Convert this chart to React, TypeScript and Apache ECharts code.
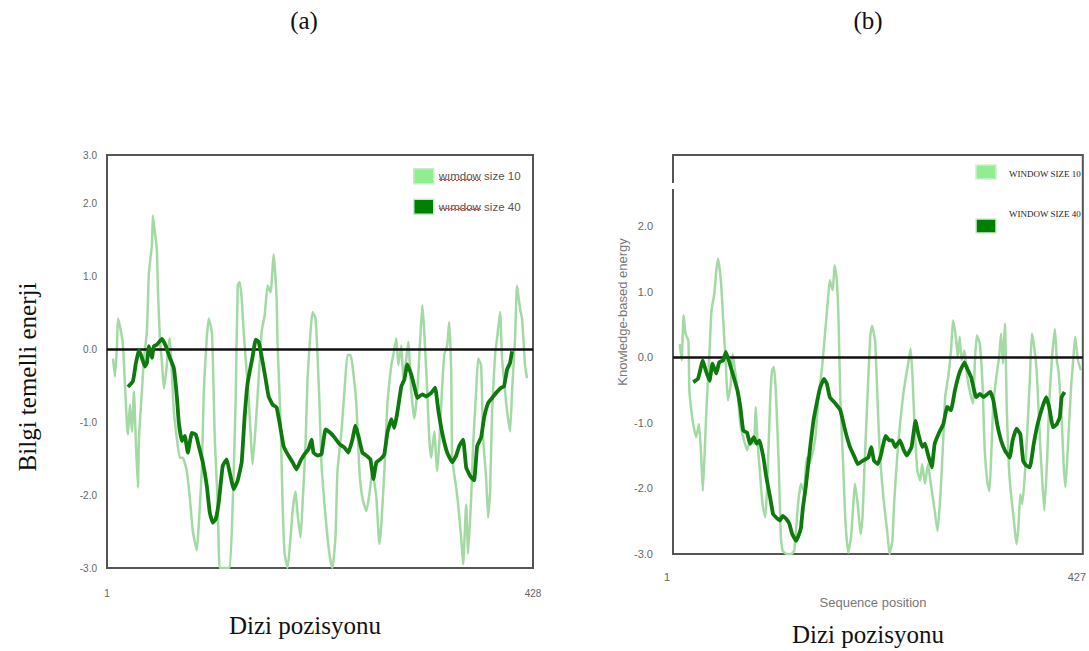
import { useEffect, useRef } from "react";
import * as echarts from "echarts";

// Panel (a): window size 10 profile
const posA10 = [7, 9, 11, 12, 15, 17, 19, 21, 22, 24, 26, 28, 30, 32, 33, 36, 38, 41, 43, 46, 47, 49, 51, 52, 54, 56, 58, 61, 62, 64, 66, 68, 71, 74, 77, 81, 84, 87, 91, 93, 96, 98, 101, 103, 106, 107, 109, 112, 114, 119, 124, 127, 130, 132, 134, 136, 138, 141, 143, 147, 151, 156, 159, 162, 165, 168, 171, 172, 175, 177, 179, 182, 185, 187, 190, 192, 195, 197, 200, 202, 205, 207, 210, 212, 214, 216, 219, 222, 225, 227, 230, 232, 236, 239, 242, 245, 247, 251, 254, 257, 261, 264, 267, 271, 274, 276, 279, 282, 286, 288, 291, 293, 296, 298, 301, 303, 306, 309, 312, 315, 317, 319, 322, 324, 326, 329, 332, 334, 336, 339, 342, 344, 346, 347, 351, 353, 356, 358, 361, 363, 366, 368, 371, 373, 376, 378, 381, 383, 385, 387, 390, 392, 395, 397, 400, 402, 405, 407, 410, 412, 415, 417, 420, 422];
const valA10 = [-0.13, -0.38, 0.05, 0.42, 0.24, 0.05, -0.49, -1.04, -1.17, -0.76, -1.13, -0.58, -1.31, -1.9, -1.22, -0.58, -0.13, 0.24, 1.05, 1.42, 1.83, 1.6, 1.37, 0.83, 0.15, -0.17, -0.54, -0.22, 0.01, 0.15, -0.31, -0.85, -1.22, -1.49, -1.49, -1.67, -2.04, -2.49, -2.76, -2.4, -1.67, -0.58, 0.15, 0.42, 0.24, -0.08, -1.22, -2.13, -3.0, -3.0, -3.0, -2.13, -0.67, 0.87, 0.92, 0.69, 0.24, -0.31, -0.67, -1.58, -0.85, 0.24, 0.46, 0.87, 0.78, 1.3, 0.69, 0.05, -0.99, -2.13, -2.8, -3.0, -2.58, -2.22, -1.95, -2.26, -2.58, -2.13, -1.31, -0.4, 0.24, 0.51, 0.42, -0.08, -0.76, -1.58, -2.13, -2.58, -2.9, -3.0, -2.58, -1.67, -1.13, -0.58, -0.08, -0.08, -0.22, -0.76, -1.67, -2.04, -2.22, -1.99, -1.67, -2.04, -2.67, -2.4, -1.67, -0.76, -0.22, -0.08, 0.15, -0.22, 0.05, -0.4, -0.13, 0.1, -0.58, -0.95, -0.58, 0.15, 0.6, 0.24, -0.58, -1.22, -1.49, -1.13, -1.67, -1.31, -0.76, -0.08, 0.05, 0.37, -0.31, -1.49, -1.9, -2.13, -2.58, -2.95, -2.13, -2.8, -2.04, -1.31, -0.58, -0.13, -0.22, -1.22, -1.76, -2.31, -1.95, -0.85, -0.08, 0.15, 0.51, -0.13, -0.58, -0.85, -1.13, -0.58, 0.15, 0.87, 0.55, 0.42, -0.22, -0.4];

// Panel (a): window size 40 profile
const posA40 = [22, 27, 30, 33, 36, 39, 41, 43, 46, 48, 51, 56, 60, 64, 68, 71, 73, 76, 79, 82, 86, 90, 93, 97, 101, 104, 107, 110, 113, 117, 121, 124, 128, 132, 136, 139, 142, 147, 150, 153, 156, 159, 163, 167, 171, 174, 178, 182, 187, 191, 195, 199, 203, 206, 208, 212, 216, 220, 225, 229, 234, 239, 243, 247, 250, 253, 257, 261, 265, 268, 271, 275, 279, 282, 286, 289, 292, 296, 299, 302, 306, 309, 312, 317, 321, 326, 330, 333, 337, 342, 347, 351, 354, 358, 361, 365, 369, 372, 376, 379, 383, 387, 391, 396, 399, 402, 405, 407];
const valA40 = [-0.52, -0.44, -0.19, -0.01, -0.12, -0.24, -0.19, 0.04, -0.12, 0.04, 0.06, 0.14, 0.04, -0.12, -0.26, -0.65, -1.01, -1.26, -1.19, -1.42, -1.15, -1.17, -1.33, -1.55, -1.87, -2.24, -2.38, -2.33, -2.1, -1.6, -1.51, -1.69, -1.92, -1.8, -1.55, -0.92, -0.46, -0.1, 0.13, 0.1, -0.1, -0.33, -0.65, -0.76, -0.8, -1.01, -1.33, -1.44, -1.55, -1.65, -1.53, -1.44, -1.37, -1.24, -1.42, -1.46, -1.44, -1.1, -1.15, -1.21, -1.3, -1.35, -1.42, -1.24, -1.05, -1.19, -1.42, -1.46, -1.51, -1.78, -1.55, -1.51, -1.44, -1.15, -0.96, -1.08, -0.87, -0.51, -0.42, -0.21, -0.35, -0.51, -0.67, -0.62, -0.65, -0.6, -0.53, -0.83, -1.15, -1.42, -1.55, -1.46, -1.33, -1.24, -1.62, -1.74, -1.8, -1.33, -1.21, -0.94, -0.74, -0.67, -0.6, -0.53, -0.51, -0.28, -0.19, -0.03];

// Panel (b): window size 10 profile
const posB10 = [8, 10, 12, 14, 17, 18, 20, 22, 25, 28, 30, 32, 34, 36, 39, 41, 44, 46, 48, 51, 53, 56, 58, 61, 63, 65, 68, 71, 74, 78, 81, 85, 87, 89, 91, 94, 97, 99, 102, 104, 106, 108, 111, 113, 115, 119, 124, 127, 131, 134, 137, 140, 142, 145, 149, 152, 156, 159, 162, 164, 167, 169, 171, 173, 175, 178, 180, 183, 186, 188, 190, 193, 196, 198, 200, 203, 206, 208, 211, 213, 215, 217, 220, 224, 226, 229, 231, 234, 237, 240, 243, 246, 248, 250, 252, 255, 258, 260, 263, 266, 269, 273, 276, 279, 282, 284, 287, 290, 292, 295, 297, 299, 301, 304, 306, 308, 311, 313, 315, 317, 320, 323, 325, 328, 330, 332, 334, 337, 340, 342, 344, 346, 348, 350, 352, 355, 358, 360, 362, 364, 367, 370, 372, 374, 376, 379, 381, 383, 385, 387, 390, 392, 395, 398, 400, 402, 405, 407, 409, 412, 415, 417, 419, 422, 425];
const valB10 = [0.2, -0.05, 0.64, 0.36, 0.25, -0.51, -0.81, -1.02, -1.22, -1.02, -1.42, -2.04, -1.42, -0.71, 0.1, 0.71, 0.97, 1.32, 1.5, 1.12, 0.61, -0.15, -0.66, -0.41, 0.05, -0.15, -0.51, -1.02, -1.22, -1.42, -1.27, -1.32, -0.76, -1.32, -1.68, -2.24, -2.44, -1.93, -0.66, -0.2, -0.15, -0.56, -1.68, -2.7, -2.95, -3.0, -3.0, -2.95, -2.24, -1.93, -2.04, -1.53, -1.63, -1.53, -1.22, -0.66, -0.15, 0.36, 0.87, 1.17, 1.02, 1.4, 1.22, 0.61, -0.66, -1.68, -2.44, -2.98, -2.75, -2.34, -1.93, -2.24, -2.7, -2.44, -1.68, -0.66, 0.31, 0.48, 0.25, -0.41, -1.17, -1.68, -2.19, -2.7, -3.0, -2.8, -2.19, -1.53, -1.02, -0.61, -0.31, -0.05, 0.13, -0.31, -1.02, -1.73, -1.88, -1.63, -1.93, -1.63, -1.93, -2.34, -2.65, -2.1, -1.22, -0.6, -0.31, 0.1, 0.56, 0.31, 0.0, 0.31, -0.05, 0.1, -0.2, -0.41, -0.61, -0.71, 0.0, 0.33, 0.2, -0.51, -1.42, -1.93, -2.04, -1.42, -0.71, -0.31, 0.0, 0.36, -0.1, 0.51, -0.81, -1.63, -2.04, -2.44, -2.85, -2.6, -2.09, -2.24, -1.73, -0.92, -0.31, 0.36, 0.2, -0.2, -0.81, -1.42, -1.93, -2.34, -1.53, -0.71, 0.0, 0.43, -0.05, -0.25, -0.92, -1.63, -1.98, -1.22, -0.41, -0.05, 0.31, -0.05, -0.2];

// Panel (b): window size 40 profile
const posB40 = [22, 27, 32, 35, 39, 42, 46, 49, 53, 56, 60, 64, 68, 71, 74, 78, 81, 85, 88, 91, 95, 98, 102, 105, 108, 112, 115, 119, 122, 125, 129, 132, 134, 136, 139, 144, 147, 151, 154, 158, 161, 164, 170, 175, 180, 185, 190, 193, 198, 204, 207, 210, 214, 217, 222, 226, 229, 232, 237, 241, 244, 249, 253, 256, 260, 263, 266, 270, 273, 277, 282, 286, 290, 294, 299, 304, 307, 311, 316, 320, 324, 328, 331, 334, 338, 342, 346, 351, 354, 358, 362, 365, 368, 372, 376, 380, 385, 389, 392, 396, 400, 403, 405, 408];
const valB40 = [-0.38, -0.33, -0.05, -0.2, -0.36, -0.1, -0.25, -0.08, -0.05, 0.08, -0.1, -0.3, -0.51, -0.76, -1.12, -1.15, -1.32, -1.22, -1.32, -1.27, -1.53, -1.83, -2.14, -2.39, -2.44, -2.49, -2.42, -2.47, -2.54, -2.7, -2.8, -2.7, -2.6, -2.3, -1.98, -1.32, -0.97, -0.66, -0.46, -0.33, -0.41, -0.61, -0.71, -0.81, -1.12, -1.37, -1.53, -1.63, -1.58, -1.53, -1.37, -1.58, -1.63, -1.5, -1.2, -1.27, -1.27, -1.37, -1.27, -1.42, -1.5, -1.37, -0.97, -1.17, -1.37, -1.32, -1.48, -1.68, -1.32, -1.17, -1.02, -0.76, -0.81, -0.51, -0.23, -0.08, -0.18, -0.31, -0.61, -0.56, -0.61, -0.56, -0.53, -0.66, -1.02, -1.27, -1.42, -1.53, -1.27, -1.09, -1.17, -1.58, -1.65, -1.68, -1.32, -1.02, -0.76, -0.61, -0.76, -1.07, -1.02, -0.92, -0.61, -0.53];

// Axis ends and series names
const xEndsA = [1, 428];
const xEndsB = [1, 427];
const yMaxA = 2.66;
const yMaxB = 3.08;
const namesA = ["wımdow size 10", "wımdow size 40"];
const namesB = ["WINDOW SIZE 10", "WINDOW SIZE 40"];

const SANS = "'Liberation Sans', Arial, sans-serif";
const SERIF = "'Liberation Serif', 'Times New Roman', serif";
const LIGHT_LINE = "#a3daa3";
const DARK_LINE = "#0e7a0e";
const LIGHT_KEY = "#90ee90";
const DARK_KEY = "#008000";

const zip = (xs: number[], ys: number[]) => xs.map((x, i) => [x, ys[i]]);

const zeroLine = {
  silent: true,
  symbol: "none",
  label: { show: false },
  lineStyle: { color: "#111", width: 2.5, type: "solid" as const },
  emphasis: { disabled: true },
  data: [{ yAxis: 0 }],
};

function lightSeries(name: string, idx: number, data: number[][]) {
  return {
    name,
    type: "line" as const,
    xAxisIndex: idx,
    yAxisIndex: idx,
    data,
    symbol: "none",
    smooth: 0.15,
    lineStyle: { color: LIGHT_LINE, width: 2.5 },
    itemStyle: { color: LIGHT_KEY },
    z: 2,
    markLine: zeroLine,
  };
}

function darkSeries(name: string, idx: number, data: number[][]) {
  return {
    name,
    type: "line" as const,
    xAxisIndex: idx,
    yAxisIndex: idx,
    data,
    symbol: "none",
    smooth: 0.1,
    lineStyle: { color: DARK_LINE, width: 3.8 },
    itemStyle: { color: DARK_KEY },
    z: 6,
  };
}

// zig-zag spelling underline under a legend word
function squiggle(x0: number, x1: number, y: number) {
  const pts: number[][] = [];
  let up = true;
  for (let x = x0; x <= x1; x += 2) {
    pts.push([x, y + (up ? -1 : 1)]);
    up = !up;
  }
  return {
    type: "polyline",
    shape: { points: pts },
    style: { stroke: "#d9413a", lineWidth: 1, fill: null },
    z: 50,
  };
}

function serifText(text: string, x: number, y: number, size: number, rotation = 0) {
  return {
    type: "text",
    x,
    y,
    rotation,
    style: {
      text,
      fill: "#111",
      font: `${size}px ${SERIF}`,
      align: "center",
      verticalAlign: "middle",
    },
    z: 50,
  };
}

function buildOption() {
  return {
    animation: false,
    backgroundColor: "#ffffff",
    grid: [
      { left: 107, top: 155, width: 426, height: 413, show: true, borderColor: "#555", borderWidth: 2, backgroundColor: "transparent" },
      { left: 673, top: 155, width: 418, height: 399, show: true, borderColor: "#555", borderWidth: 2, backgroundColor: "transparent" },
    ],
    xAxis: [
      {
        type: "value",
        gridIndex: 0,
        min: xEndsA[0],
        max: xEndsA[1],
        splitLine: { show: false },
        axisLine: { show: false },
        axisTick: { show: false },
        axisLabel: {
          margin: 20,
          color: "#666",
          fontSize: 10,
          fontFamily: SANS,
          formatter: (v: number) => (xEndsA.includes(v) ? String(v) : ""),
        },
      },
      {
        type: "value",
        gridIndex: 1,
        min: xEndsB[0],
        max: xEndsB[1],
        splitLine: { show: false },
        axisLine: { show: false },
        axisTick: { show: false },
        axisLabel: {
          margin: 17,
          color: "#666",
          fontSize: 11,
          fontFamily: SANS,
          padding: [0, 12, 0, 0],
          formatter: (v: number) => (xEndsB.includes(v) ? String(v) : ""),
        },
      },
    ],
    yAxis: [
      {
        type: "value",
        gridIndex: 0,
        min: -3,
        max: yMaxA,
        interval: 1,
        splitLine: { show: false },
        axisLine: { show: false },
        axisTick: { show: false },
        axisLabel: {
          margin: 10,
          color: "#666",
          fontSize: 10,
          fontFamily: SANS,
          formatter: (v: number) => (Math.abs(v - yMaxA) < 1e-6 ? "3.0" : v.toFixed(1)),
        },
      },
      {
        type: "value",
        gridIndex: 1,
        min: -3,
        max: yMaxB,
        interval: 1,
        splitLine: { show: false },
        axisLine: { show: false },
        axisTick: { show: false },
        axisLabel: {
          margin: 20,
          color: "#666",
          fontSize: 11,
          fontFamily: SANS,
          formatter: (v: number) => (v > 2.5 ? "" : v.toFixed(1)),
        },
      },
    ],
    legend: [
      {
        data: namesA,
        orient: "vertical",
        left: 413,
        top: 168,
        padding: 0,
        itemWidth: 20,
        itemHeight: 15,
        itemGap: 14,
        icon: "rect",
        selectedMode: false,
        itemStyle: { borderColor: "#cfe6cf", borderWidth: 1.5 },
        textStyle: { color: "#555", fontSize: 11.5, fontFamily: SANS },
      },
    ],
    series: [
      lightSeries(namesA[0], 0, zip(posA10, valA10)),
      darkSeries(namesA[1], 0, zip(posA40, valA40)),
      lightSeries(namesB[0], 1, zip(posB10, valB10)),
      darkSeries(namesB[1], 1, zip(posB40, valB40)),
    ],
    graphic: [
      serifText("(a)", 304, 20, 25),
      serifText("(b)", 868, 20, 25),
      serifText("Dizi pozisyonu", 305, 625, 25),
      serifText("Dizi pozisyonu", 868, 634, 25),
      serifText("Bilgi temelli enerji", 27, 377, 25, Math.PI / 2),
      {
        type: "text",
        x: 622,
        y: 312,
        rotation: Math.PI / 2,
        style: { text: "Knowledge-based energy", fill: "#777", font: `13px ${SANS}`, align: "center", verticalAlign: "middle" },
        z: 50,
      },
      {
        type: "text",
        x: 873,
        y: 602,
        style: { text: "Sequence position", fill: "#777", font: `13px ${SANS}`, align: "center", verticalAlign: "middle" },
        z: 50,
      },
      // break in the left frame of panel (b)
      { type: "rect", shape: { x: 670, y: 183, width: 6, height: 6 }, style: { fill: "#ffffff" }, z: 50 },
      // legend of panel (b)
      { type: "rect", shape: { x: 976, y: 165, width: 20, height: 14 }, style: { fill: LIGHT_KEY, stroke: "#d5ecd5", lineWidth: 1.5 }, z: 50 },
      {
        type: "text",
        x: 1009,
        y: 174,
        style: { text: namesB[0], fill: "#222", font: `9px ${SERIF}`, align: "left", verticalAlign: "middle" },
        z: 50,
      },
      { type: "rect", shape: { x: 976, y: 219, width: 20, height: 14 }, style: { fill: DARK_KEY, stroke: "#d5ecd5", lineWidth: 1.5 }, z: 50 },
      {
        type: "text",
        x: 1009,
        y: 214,
        style: { text: namesB[1], fill: "#222", font: `9px ${SERIF}`, align: "left", verticalAlign: "middle" },
        z: 50,
      },
      squiggle(439, 481, 180),
      squiggle(439, 481, 209),
    ],
  };
}

export default function App() {
  const ref = useRef<HTMLDivElement>(null);
  useEffect(() => {
    if (!ref.current) return;
    const chart = echarts.init(ref.current, undefined, { renderer: "svg" });
    chart.setOption(buildOption() as any);
    return () => chart.dispose();
  }, []);
  return (
    <div
      ref={ref}
      style={{ position: "absolute", left: 0, top: 0, width: 1089, height: 651, background: "#ffffff" }}
    />
  );
}
